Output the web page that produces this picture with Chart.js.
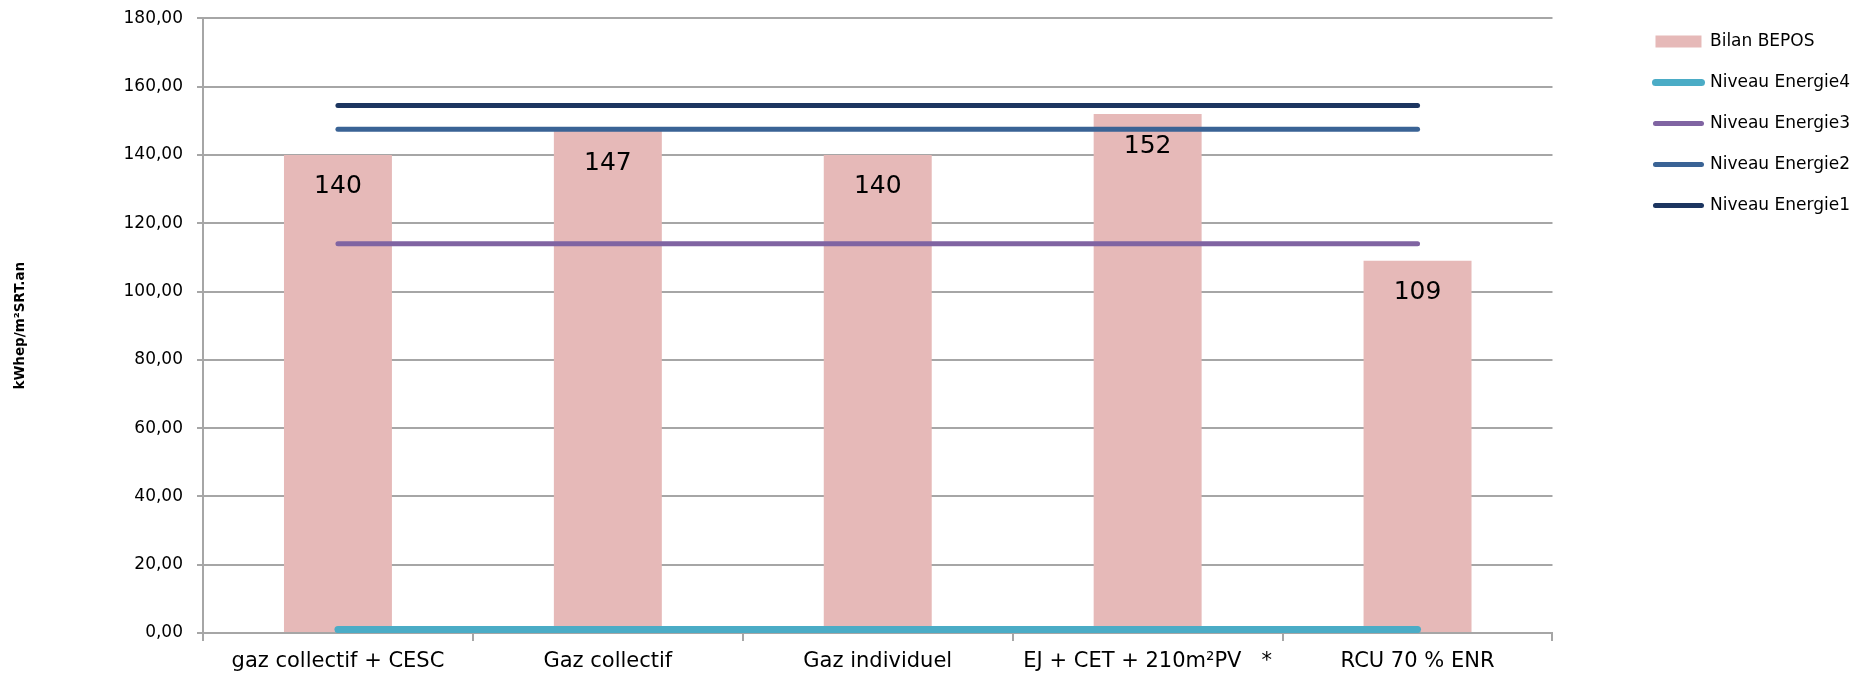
<!DOCTYPE html>
<html>
<head>
<meta charset="utf-8">
<script src="https://cdn.jsdelivr.net/npm/chart.js@4.4.1/dist/chart.umd.min.js"></script>
<style>
html,body{margin:0;padding:0;background:#fff;}
</style>
</head>
<body>
<canvas id="chart" width="1860" height="675"></canvas>
<script>
/* data */
const categories = ["gaz collectif + CESC", "Gaz collectif", "Gaz individuel", "EJ + CET + 210m²PV   *", "RCU 70 % ENR"];
const bilanBepos = [140, 147, 140, 152, 109];
const niveauEnergie4 = [1, 1, 1, 1, 1];
const niveauEnergie3 = [114, 114, 114, 114, 114];
const niveauEnergie2 = [147.5, 147.5, 147.5, 147.5, 147.5];
const niveauEnergie1 = [154.5, 154.5, 154.5, 154.5, 154.5];
const yMin = 0, yMax = 180, yStep = 20;

const FONT = "DejaVu Sans";
const GRID = "#A6A6A6";

/* value labels inside the bars */
const barLabels = {
  id: "barLabels",
  afterDatasetsDraw(chart) {
    const ctx = chart.ctx;
    const meta = chart.getDatasetMeta(0);
    ctx.save();
    ctx.font = "25px '" + FONT + "'";
    ctx.fillStyle = "#000";
    ctx.textAlign = "center";
    ctx.textBaseline = "middle";
    meta.data.forEach((bar, i) => {
      ctx.fillText(String(bilanBepos[i]), bar.x, bar.y + 32);
    });
    ctx.restore();
  }
};

const lineSet = (label, data, color, width) => ({
  type: "line",
  label: label,
  data: data,
  borderColor: color,
  backgroundColor: color,
  borderWidth: width,
  borderCapStyle: "round",
  pointRadius: 0,
  fill: false,
  tension: 0,
  order: 0
});

new Chart(document.getElementById("chart"), {
  type: "bar",
  data: {
    labels: categories,
    datasets: [
      {
        type: "bar",
        label: "Bilan BEPOS",
        data: bilanBepos,
        backgroundColor: "#E6B9B8",
        categoryPercentage: 1,
        barPercentage: 0.4,
        order: 1
      },
      lineSet("Niveau Energie4", niveauEnergie4, "#4BACC6", 7),
      lineSet("Niveau Energie3", niveauEnergie3, "#8064A2", 5),
      lineSet("Niveau Energie2", niveauEnergie2, "#3A6395", 5),
      lineSet("Niveau Energie1", niveauEnergie1, "#1C3560", 5)
    ]
  },
  options: {
    responsive: false,
    animation: false,
    layout: { padding: { top: 9, right: 0, bottom: 0, left: 0 } },
    plugins: {
      tooltip: { enabled: false },
      legend: {
        position: "right",
        align: "start",
        labels: {
          usePointStyle: true,
          pointStyleWidth: 46,
          boxHeight: 12,
          padding: 24,
          color: "#000",
          font: { family: FONT, size: 17 },
          generateLabels(chart) {
            return chart.data.datasets.map((ds, i) => ({
              text: ds.label,
              datasetIndex: i,
              fillStyle: ds.type === "line" ? ds.borderColor : ds.backgroundColor,
              strokeStyle: ds.type === "line" ? ds.borderColor : ds.backgroundColor,
              lineWidth: ds.type === "line" ? ds.borderWidth : 0,
              lineCap: "round",
              pointStyle: ds.type === "line" ? "line" : "rect",
              hidden: false,
              fontColor: "#000"
            }));
          }
        }
      }
    },
    scales: {
      x: {
        offset: true,
        afterFit(s) { s.height = 42; },
        ticks: {
          color: "#000",
          font: { family: FONT, size: 21 },
          maxRotation: 0,
          autoSkip: false,
          padding: 8
        },
        grid: {
          offset: true,
          drawOnChartArea: false,
          drawTicks: true,
          tickLength: 8,
          color: GRID,
          lineWidth: 2
        },
        border: { color: GRID, width: 2 }
      },
      y: {
        min: yMin,
        max: yMax,
        afterFit(s) {
          s.width = 203;
          s.paddingTop = 18.4;
          s.paddingBottom = 0;
        },
        ticks: {
          stepSize: yStep,
          color: "#000",
          font: { family: FONT, size: 17 },
          padding: 14,
          callback: v => v.toFixed(2).replace(".", ",")
        },
        grid: { color: GRID, lineWidth: 2, tickLength: 6 },
        border: { color: GRID, width: 2 },
        title: {
          display: true,
          text: "kWhep/m²SRT.an",
          color: "#000",
          font: { family: FONT, size: 13.5, weight: "bold" },
          padding: { top: 12, bottom: 0 }
        }
      },
      y2: {
        position: "right",
        display: true,
        afterFit(s) { s.width = 79; },
        grid: { display: false },
        ticks: { display: false },
        border: { display: false }
      }
    }
  },
  plugins: [barLabels]
});
</script>
</body>
</html>
